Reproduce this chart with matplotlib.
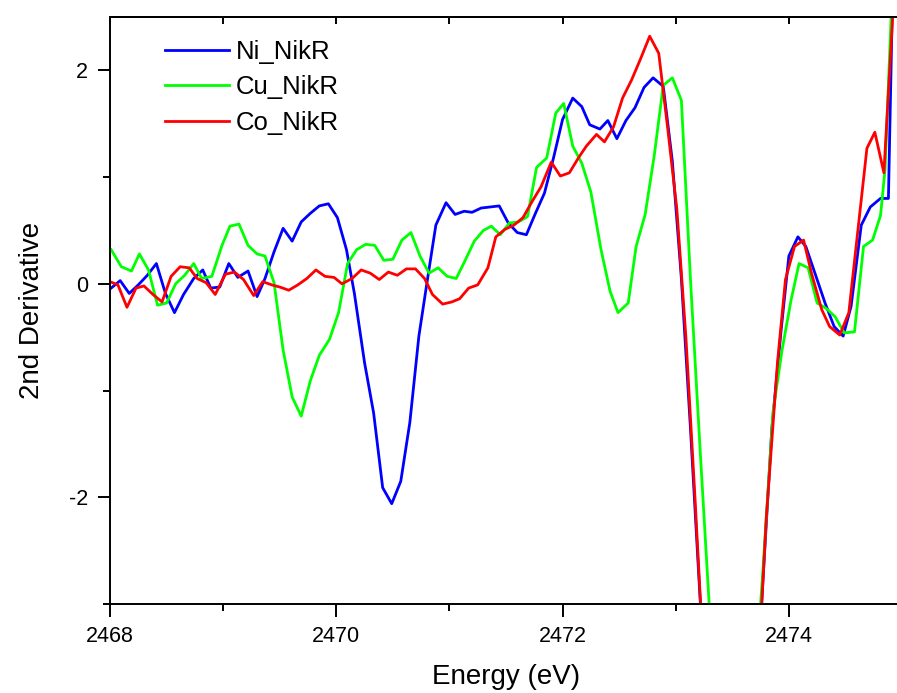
import matplotlib
matplotlib.use("Agg")
from matplotlib import pyplot as plt
from matplotlib.ticker import MultipleLocator

# Ni_NikR (blue)
ni_x = [2468.01, 2468.09, 2468.17, 2468.25, 2468.33, 2468.41, 2468.49, 2468.57, 2468.65, 2468.74,
        2468.82, 2468.89, 2468.97, 2469.05, 2469.13, 2469.22, 2469.30, 2469.37, 2469.45, 2469.53,
        2469.61, 2469.69, 2469.77, 2469.85, 2469.93, 2470.01, 2470.09, 2470.16, 2470.25, 2470.33,
        2470.41, 2470.49, 2470.57, 2470.65, 2470.73, 2470.81, 2470.88, 2470.97, 2471.05, 2471.13,
        2471.20, 2471.28, 2471.36, 2471.44, 2471.52, 2471.60, 2471.68, 2471.76, 2471.84, 2471.92,
        2472.00, 2472.09, 2472.17, 2472.24, 2472.33, 2472.40, 2472.48, 2472.56, 2472.64, 2472.72,
        2472.80, 2472.89, 2472.97, 2473.05, 2473.13, 2473.21, 2473.29, 2473.37, 2473.45, 2473.53,
        2473.61, 2473.69, 2473.77, 2473.85, 2473.93, 2474.00, 2474.08, 2474.15, 2474.24, 2474.32,
        2474.40, 2474.48, 2474.55, 2474.64, 2474.72, 2474.81, 2474.88, 2474.96]
ni_y = [-0.04, 0.03, -0.09, -0.01, 0.08, 0.19, -0.09, -0.27, -0.10, 0.05,
        0.13, -0.04, -0.03, 0.19, 0.06, 0.12, -0.12, 0.05, 0.30, 0.52,
        0.40, 0.58, 0.66, 0.73, 0.75, 0.62, 0.32, -0.09, -0.74, -1.21,
        -1.91, -2.06, -1.85, -1.30, -0.49, 0.07, 0.55, 0.76, 0.65, 0.68,
        0.67, 0.71, 0.72, 0.73, 0.57, 0.48, 0.46, 0.66, 0.85, 1.18,
        1.54, 1.74, 1.66, 1.49, 1.45, 1.53, 1.36, 1.53, 1.65, 1.84,
        1.93, 1.85, 1.15, 0.05, -1.35, -2.85, -4.3, -5.5, -6.2, -6.3,
        -5.6, -4.3, -2.8, -1.35, -0.45, 0.26, 0.44, 0.35, 0.07, -0.18,
        -0.40, -0.49, -0.21, 0.55, 0.72, 0.80, 0.80, 5.0]

# Cu_NikR (green)
cu_x = [2468.01, 2468.10, 2468.19, 2468.26, 2468.34, 2468.42, 2468.50, 2468.58, 2468.66, 2468.74,
        2468.81, 2468.90, 2468.99, 2469.06, 2469.14, 2469.22, 2469.30, 2469.37, 2469.45, 2469.53,
        2469.61, 2469.69, 2469.77, 2469.85, 2469.94, 2470.02, 2470.10, 2470.18, 2470.26, 2470.34,
        2470.42, 2470.50, 2470.58, 2470.66, 2470.74, 2470.82, 2470.90, 2470.98, 2471.06, 2471.13,
        2471.22, 2471.30, 2471.37, 2471.45, 2471.53, 2471.61, 2471.69, 2471.77, 2471.86, 2471.94,
        2472.01, 2472.09, 2472.17, 2472.25, 2472.34, 2472.42, 2472.49, 2472.58, 2472.65, 2472.73,
        2472.81, 2472.89, 2472.97, 2473.05, 2473.13, 2473.21, 2473.29, 2473.37, 2473.45, 2473.53,
        2473.61, 2473.69, 2473.77, 2473.86, 2473.94, 2474.02, 2474.09, 2474.17, 2474.25, 2474.33,
        2474.41, 2474.49, 2474.58, 2474.66, 2474.74, 2474.81, 2474.85, 2474.93]
cu_y = [0.32, 0.16, 0.12, 0.28, 0.13, -0.20, -0.18, 0.00, 0.08, 0.19,
        0.05, 0.07, 0.36, 0.54, 0.56, 0.36, 0.28, 0.26, 0.01, -0.62,
        -1.06, -1.24, -0.91, -0.67, -0.52, -0.27, 0.19, 0.32, 0.37, 0.36,
        0.22, 0.23, 0.41, 0.48, 0.26, 0.10, 0.15, 0.07, 0.05, 0.20,
        0.40, 0.50, 0.54, 0.46, 0.57, 0.58, 0.63, 1.09, 1.18, 1.60,
        1.69, 1.29, 1.13, 0.86, 0.32, -0.07, -0.27, -0.18, 0.35, 0.65,
        1.20, 1.86, 1.93, 1.72, 0.05, -1.45, -2.9, -4.3, -5.2, -5.5,
        -5.0, -3.9, -2.7, -1.2, -0.62, -0.15, 0.19, 0.15, -0.18, -0.23,
        -0.31, -0.46, -0.45, 0.35, 0.41, 0.64, 1.07, 3.2]

# Co_NikR (red)
co_x = [2468.00, 2468.07, 2468.15, 2468.23, 2468.30, 2468.38, 2468.46, 2468.54, 2468.62, 2468.70,
        2468.77, 2468.85, 2468.93, 2469.02, 2469.10, 2469.18, 2469.27, 2469.35, 2469.43, 2469.50,
        2469.58, 2469.66, 2469.74, 2469.82, 2469.90, 2469.98, 2470.05, 2470.14, 2470.22, 2470.30,
        2470.38, 2470.46, 2470.54, 2470.62, 2470.70, 2470.78, 2470.85, 2470.94, 2471.02, 2471.09,
        2471.17, 2471.25, 2471.34, 2471.41, 2471.49, 2471.57, 2471.65, 2471.73, 2471.81, 2471.90,
        2471.98, 2472.06, 2472.14, 2472.21, 2472.30, 2472.37, 2472.45, 2472.53, 2472.61, 2472.69,
        2472.77, 2472.85, 2472.93, 2473.01, 2473.09, 2473.17, 2473.25, 2473.33, 2473.41, 2473.49,
        2473.57, 2473.65, 2473.73, 2473.80, 2473.90, 2473.97, 2474.05, 2474.13, 2474.20, 2474.29,
        2474.36, 2474.45, 2474.53, 2474.61, 2474.69, 2474.76, 2474.84, 2474.92, 2475.00]
co_y = [0.02, -0.01, -0.22, -0.04, -0.02, -0.10, -0.17, 0.07, 0.16, 0.15,
        0.05, 0.01, -0.10, 0.09, 0.11, 0.04, -0.11, 0.02, -0.01, -0.03,
        -0.06, -0.01, 0.05, 0.13, 0.07, 0.06, 0.00, 0.05, 0.13, 0.10,
        0.04, 0.11, 0.08, 0.14, 0.14, 0.05, -0.10, -0.19, -0.17, -0.14,
        -0.04, -0.01, 0.15, 0.44, 0.51, 0.55, 0.62, 0.77, 0.91, 1.14,
        1.01, 1.04, 1.18, 1.29, 1.40, 1.33, 1.47, 1.74, 1.91, 2.11,
        2.32, 2.16, 1.45, 0.70, -0.5, -2.0, -3.6, -5.0, -6.0, -6.4,
        -6.0, -5.0, -3.6, -2.2, -0.73, 0.04, 0.35, 0.41, 0.10, -0.24,
        -0.40, -0.48, -0.27, 0.50, 1.27, 1.42, 1.04, 2.55, 4.5]

plt.rcParams['font.family'] = ['Liberation Sans', 'DejaVu Sans']
plt.rcParams['axes.unicode_minus'] = False

fig = plt.figure(figsize=(8.97, 6.93), dpi=100)
# axes run a little past the right edge of the picture, like the source
ax = fig.add_axes([110 / 897, 89 / 693, 792 / 897, 587 / 693])

ax.plot(ni_x, ni_y, color='#0000ff', lw=2.0, label='Ni_NikR')
ax.plot(cu_x, cu_y, color='#00ff00', lw=2.0, label='Cu_NikR')
ax.plot(co_x, co_y, color='#ff0000', lw=2.0, label='Co_NikR')

ax.set_xlim(2468, 2475)
ax.set_ylim(-3, 2.5)

ax.xaxis.set_major_locator(MultipleLocator(2))
ax.xaxis.set_minor_locator(MultipleLocator(1))
ax.yaxis.set_major_locator(MultipleLocator(2))
ax.yaxis.set_minor_locator(MultipleLocator(1))
ax.tick_params(which='major', direction='out', length=9, width=1.4, labelsize=15.5, pad=7)
ax.tick_params(which='minor', direction='out', length=5, width=1.4)
ax.tick_params(right=False, top=False)

top = ax.secondary_xaxis('top')
top.xaxis.set_major_locator(MultipleLocator(1))
top.tick_params(direction='in', length=5, width=1.4, labeltop=False)
top.spines['top'].set_linewidth(1.4)

for s in ax.spines.values():
    s.set_linewidth(1.4)

ax.set_xlabel('Energy (eV)', fontsize=20, labelpad=12)
ax.set_ylabel('2nd Derivative', fontsize=20, labelpad=17)

ax.legend(loc='upper left', bbox_to_anchor=(0.069, 0.961), frameon=False, fontsize=18.5,
          borderaxespad=0, borderpad=0,
          handlelength=2.5, handletextpad=0.28, labelspacing=0.45)

fig.savefig('out.png', dpi=100)
plt.close(fig)
